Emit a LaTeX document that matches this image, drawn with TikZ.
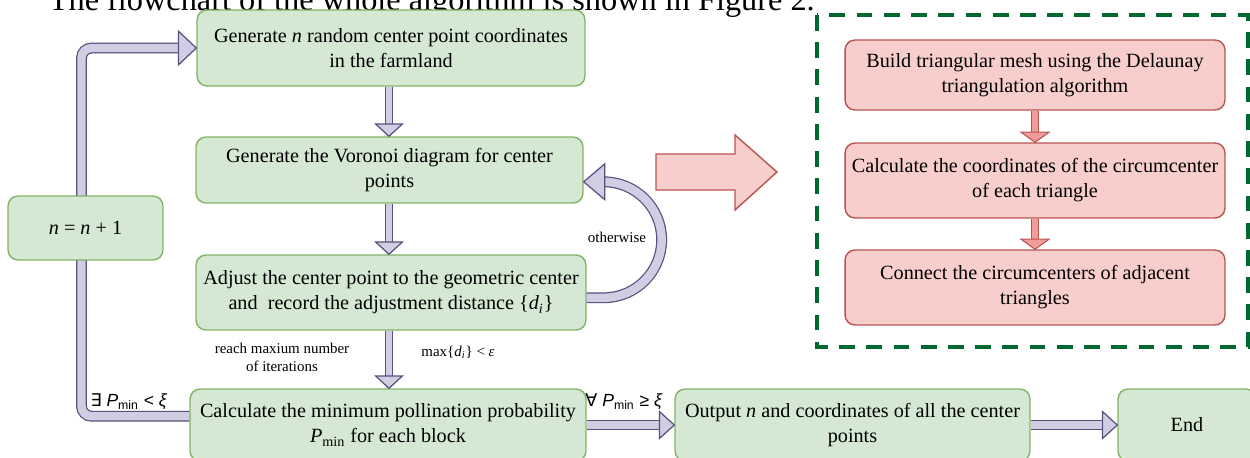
\documentclass[tikz,border=0pt]{standalone}
\usepackage{fontspec}
\setmainfont{Liberation Serif}
\setsansfont{Liberation Sans}
\newfontfamily\symfont{DejaVu Sans}
\usepackage{xcolor}
\usepackage{tikz}
\usetikzlibrary{calc}

\definecolor{grfill}{HTML}{D5E8D4}
\definecolor{grline}{HTML}{82B366}
\definecolor{rdfill}{HTML}{F8CECC}
\definecolor{rdline}{HTML}{B85450}
\definecolor{rdarrow}{HTML}{F19C99}
\definecolor{lvfill}{HTML}{D0CEE2}
\definecolor{lvline}{HTML}{56517E}
\definecolor{dashgreen}{HTML}{00692F}

\tikzset{
    pics/lvhead/.style args={#1/#2}{code={%
        \draw[lvline, fill=lvfill, line width=0.7pt] (0pt,0pt) -- (-#2,#1) -- (-#2,-#1) -- cycle;}},
    pics/rdhead/.style args={#1/#2}{code={%
        \draw[rdline, fill=rdarrow, line width=0.6pt] (0pt,0pt) -- (-#2,#1) -- (-#2,-#1) -- cycle;}},
}

\begin{document}
\begin{tikzpicture}[
                        x=0.02cm, y=-0.02cm,
                        every node/.style={
                                font=\fontsize{11.5}{14.2}\selectfont,
                                align=center,
                                inner sep=2pt,
                            },
                        greenbox/.style={draw=grline, fill=grfill, line width=0.8pt, rounded corners=0.2cm},
                        redbox/.style={draw=rdline, fill=rdfill, line width=0.8pt, rounded corners=0.2cm, minimum width=7.6cm},
                        lvshaft/.style={draw=lvline, double=lvfill, double distance=#1, line width=0.7pt},
                        rdshaft/.style={draw=rdline, double=rdarrow, double distance=#1, line width=0.6pt},
                        note/.style={font=\fontsize{8.5}{10.2}\selectfont},
                        cond/.style={font=\sffamily\fontsize{10}{12}\selectfont},
                    ]

                    \clip (0,0) rectangle (1250,457);

                    \node[anchor=base west, font=\fontsize{18.4}{22}\selectfont] (caption) at (45,10.5)
                        {The flowchart of the whole algorithm is shown in Figure 2.};

                    % main column
                    \node[greenbox, minimum width=7.76cm, minimum height=1.52cm] (gen) at (391,48)
                        {Generate \textit{n} random center point coordinates\\in the farmland};
                    \node[greenbox, minimum width=7.74cm, minimum height=1.32cm] (voronoi) at (389.5,170)
                        {Generate the Voronoi diagram for center\\points};
                    \node[greenbox, minimum width=7.8cm, minimum height=1.5cm] (adjust) at (391,292.5)
                        {Adjust the center point to the geometric center\\and~ record the adjustment distance \{\textit{d}\textsubscript{\textit{i}}\}};
                    \node[greenbox, minimum width=7.92cm, minimum height=1.44cm] (calc) at (388,425)
                        {Calculate the minimum pollination probability\\\textit{P}\textsubscript{min}\ for each block};
                    \node[greenbox, minimum width=7.1cm, minimum height=1.44cm] (output) at (852.5,425)
                        {Output \textit{n} and coordinates of all the center\\points};
                    \node[greenbox, minimum width=2.76cm, minimum height=1.44cm] (finish) at (1187,425) {End};

                    \coordinate (colx) at (389,0);
                    \draw[lvshaft=3.1pt] (colx |- gen.south) -- ([yshift=6pt]colx |- voronoi.north);
                    \pic[rotate=-90] at (colx |- voronoi.north) {lvhead=7.6pt/7pt};
                    \draw[lvshaft=3.1pt] (colx |- voronoi.south) -- ([yshift=6pt]colx |- adjust.north);
                    \pic[rotate=-90] at (colx |- adjust.north) {lvhead=7.6pt/7pt};
                    \draw[lvshaft=3.1pt] (colx |- adjust.south) -- ([yshift=6pt]colx |- calc.north);
                    \pic[rotate=-90] at (colx |- calc.north) {lvhead=7.6pt/7pt};

                    \draw[lvshaft=4.3pt] (calc.east) -- ([xshift=-7.6pt]output.west);
                    \pic at (output.west) {lvhead=7.7pt/8.5pt};
                    \draw[lvshaft=4.3pt] (output.east) -- ([xshift=-7.6pt]finish.west);
                    \pic at (finish.west) {lvhead=7.7pt/8.5pt};

                    % back to the start
                    \coordinate (loopx) at (81.5,0);
                    \draw[lvshaft=4.8pt, rounded corners=0.2cm] ([yshift=5pt]calc.west) -| (loopx |- gen.west) -- ([xshift=-9pt]gen.west);
                    \pic at (gen.west) {lvhead=9.6pt/10.2pt};

                    \node[greenbox, minimum width=3.1cm, minimum height=1.28cm] (incr) at (85.5,228)
                        {\textit{n} = \textit{n} + 1};

                    % otherwise loop
                    \draw[lvshaft=4.8pt] ([yshift=-3pt]adjust.east) -- ++(0.34cm,0)
                        arc[start angle=-90, end angle=90, radius=1.16cm];
                    \pic[rotate=180] at ([yshift=-6.7pt]voronoi.east) {lvhead=10.2pt/12pt};

                    \node[note] (otherwise) at (617,237) {otherwise};
                    \node[note] (maxiter) at (282,357) {reach maxium number\\of iterations};
                    \node[note] (converged) at (458,352) {max\{\textit{d}\textsubscript{\textit{i}}\} < \textit{ε}};
                    \node[cond] (exists) at (129,402) {{\symfont ∃} \textit{P}\textsubscript{min} < \textit{ξ}};
                    \node[cond] (forall) at (624,402) {{\symfont ∀} \textit{P}\textsubscript{min} ≥ \textit{ξ}};

                    % big arrow to the detail
                    \draw[rdline, fill=rdfill, line width=0.8pt] (656,154) -- (735,154) -- (735,135) -- (777,172)
                        -- (735,210) -- (735,190) -- (656,190) -- cycle;

                    % Voronoi detail
                    \draw[dashgreen, line width=2.3pt, dash pattern=on 9pt off 6.5pt] (817,15) rectangle (1248,347);

                    \node[redbox, minimum height=1.4cm] (mesh) at (1035,75)
                        {Build triangular mesh using the Delaunay\\triangulation algorithm};
                    \node[redbox, minimum height=1.5cm] (circ) at (1035,180.5)
                        {Calculate the coordinates of the circumcenter\\of each triangle};
                    \node[redbox, minimum height=1.5cm] (connect) at (1035,287.5)
                        {Connect the circumcenters of adjacent\\triangles};

                    \draw[rdshaft=3.9pt] (mesh.south) -- ([yshift=5pt]circ.north);
                    \pic[rotate=-90] at (circ.north) {rdhead=8pt/5.8pt};
                    \draw[rdshaft=3.9pt] (circ.south) -- ([yshift=5pt]connect.north);
                    \pic[rotate=-90] at (connect.north) {rdhead=8pt/5.8pt};
                \end{tikzpicture}
\end{document}
